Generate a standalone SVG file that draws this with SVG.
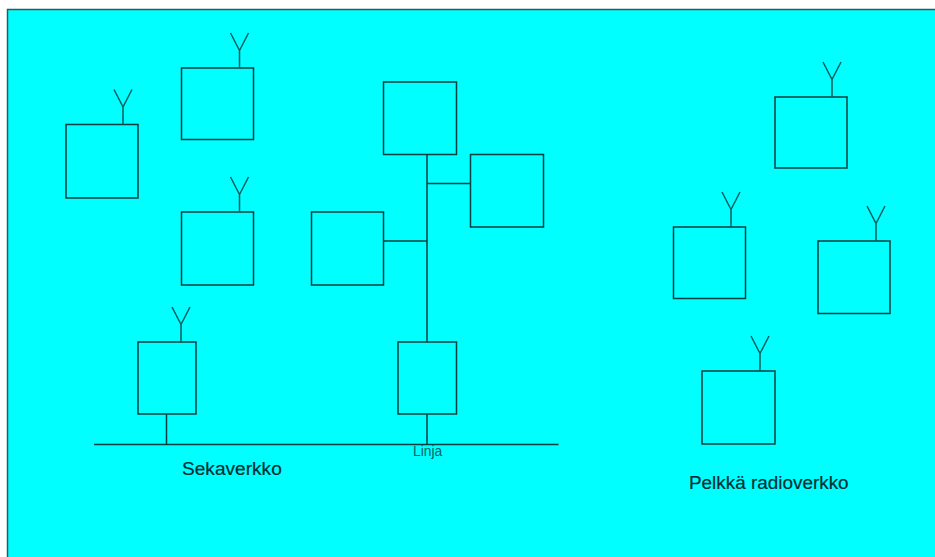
<svg xmlns="http://www.w3.org/2000/svg" width="935" height="557" viewBox="0 0 935 557">
<style>
.box{fill:none;stroke:#013f40;stroke-width:1.500}
.ln{fill:none;stroke:#013f40;stroke-width:1.500}
.ant{fill:none;stroke:#045c5c;stroke-width:1.500}
text{font-family:"Liberation Sans",Arial,sans-serif;fill:#012f33;stroke:#012f33;stroke-width:.2}
.big{font-size:19.100px}
.big2{font-size:18.900px}
.small{font-size:13.800px;fill:#066;stroke:none}
</style>
<defs>
<path id="y" class="ant" d="M0 0V-17.500M0 -17.500L-9 -35M0 -17.500L9 -35"/>
</defs>
<rect width="935" height="557" fill="#fff"/>
<rect id="background" x="7.500" y="9.500" width="930" height="550" fill="#0ff" stroke="#2f5a5a" stroke-width="1.500"/>
<g id="connectors">
<path class="ln" d="M94 444.500H558.500"/>
<path class="ln" d="M166.500 414V444.500"/>
<path class="ln" d="M427 154.500V342M427 414V444.500"/>
<path class="ln" d="M427 183.500H470.500"/>
<path class="ln" d="M383.500 241H427"/>
</g>
<g id="n1"><rect class="box" x="66" y="124.500" width="72" height="73.500"/><use href="#y" x="123" y="124.500"/></g>
<g id="n2"><rect class="box" x="181.500" y="68" width="72" height="71.500"/><use href="#y" x="239.500" y="68"/></g>
<g id="n3"><rect class="box" x="181.500" y="212" width="72" height="73"/><use href="#y" x="239.500" y="212"/></g>
<g id="n4"><rect class="box" x="138" y="342" width="58" height="72"/><use href="#y" x="181" y="342"/></g>
<g id="n5"><rect class="box" x="398" y="342" width="58.500" height="72"/></g>
<g id="n6"><rect class="box" x="383.500" y="82" width="73" height="72.500"/></g>
<g id="n7"><rect class="box" x="470.500" y="154.500" width="73" height="72.500"/></g>
<g id="n8"><rect class="box" x="311.500" y="212" width="72" height="73"/></g>
<g id="n9"><rect class="box" x="775" y="97" width="72" height="71"/><use href="#y" x="832" y="97"/></g>
<g id="n10"><rect class="box" x="673.500" y="227" width="72" height="71.500"/><use href="#y" x="731" y="227"/></g>
<g id="n11"><rect class="box" x="818" y="241" width="72" height="72.500"/><use href="#y" x="876" y="241"/></g>
<g id="n12"><rect class="box" x="702" y="371" width="73" height="73"/><use href="#y" x="760" y="371"/></g>
<text class="big" x="182" y="474.500">Sekaverkko</text>
<text class="small" x="413" y="456">Linja</text>
<text class="big2" x="689" y="489">Pelkkä radioverkko</text>
</svg>
